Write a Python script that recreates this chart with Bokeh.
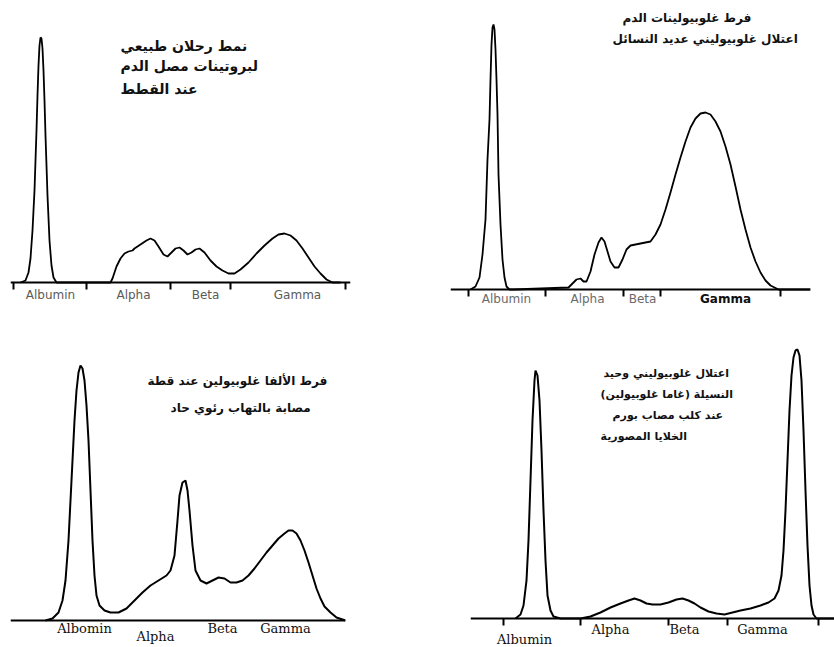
from bokeh.plotting import figure
from bokeh.models import Range1d, FixedTicker, Label, LinearAxis
from bokeh.layouts import column, row
from bokeh.embed import file_html
from bokeh.resources import INLINE

# ---------------- data (mobility, relative density) ----------------
# Panel 1: normal cat serum protein pattern
p1_mob = [10, 15, 18, 20, 22, 24, 26, 27, 28, 29, 30, 31, 32, 33, 34, 35, 37, 39, 41, 43, 46, 50,
          100, 102, 106, 110, 114, 118, 122, 124, 130, 136, 140, 144, 148, 153, 157, 161, 165, 169,
          173, 177, 181, 185, 189, 194, 200, 206, 212, 218, 224, 230, 238, 246, 254, 262, 268, 274,
          280, 286, 292, 298, 304, 310, 316, 322, 330]
p1_den = [0, 2, 10, 24, 52, 92, 152, 187, 217, 237, 245, 244, 234, 212, 182, 147, 87, 42, 17, 5, 0, 0,
          0, 4, 16, 24, 29, 31, 32, 34, 38, 42, 44, 42, 36, 28, 26, 30, 34, 35,
          32, 28, 30, 33, 34, 30, 22, 16, 12, 9, 9, 13, 20, 29, 37, 44, 48, 49,
          47, 42, 34, 25, 16, 9, 3, 0, 0]

# Panel 2: polyclonal hypergammaglobulinaemia
p2_mob = [20, 25, 29, 32, 35, 37, 39, 40, 41, 42, 43, 44, 45, 46, 47, 48, 50, 52, 54, 56, 59, 63,
          118, 122, 126, 130, 133, 136, 140, 144, 148, 151, 154, 157, 160, 164, 168, 172, 176, 180,
          185, 190, 195, 200, 205, 210, 215, 220, 225, 230, 235, 240, 245, 250, 255, 260, 265, 270,
          275, 280, 285, 290, 295, 300, 305, 310, 315, 320, 328, 360]
p2_den = [0, 3, 12, 35, 70, 130, 170, 210, 245, 262, 265, 260, 240, 210, 175, 115, 65, 30, 12, 3, 0, 0,
          2, 6, 10, 11, 8, 8, 18, 35, 47, 52, 48, 38, 28, 22, 22, 30, 40, 44,
          45, 46, 47, 48, 55, 65, 80, 97, 115, 132, 148, 162, 171, 176, 177, 175, 168, 158,
          143, 125, 103, 80, 60, 42, 28, 17, 9, 4, 0, 0]

# Panel 3: alpha hyperglobulinaemia (cat with acute pneumonia)
p3_mob = [35, 42, 48, 52, 55, 58, 60, 62, 64, 66, 68, 70, 72, 74, 76, 78, 80, 82, 84, 86, 89, 94,
          100, 108, 116, 124, 132, 140, 148, 156, 160, 164, 167, 169, 172, 175, 177, 179, 182, 185,
          190, 196, 202, 208, 214, 220, 226, 232, 238, 244, 250, 256, 262, 268, 274, 278, 282, 286,
          290, 294, 298, 302, 306, 310, 314, 320, 326, 335]
p3_den = [0, 2, 8, 20, 40, 80, 120, 160, 200, 230, 248, 255, 252, 240, 215, 180, 130, 80, 45, 25, 15, 10,
          8, 8, 12, 20, 28, 35, 40, 45, 50, 65, 100, 125, 138, 140, 130, 110, 75, 50,
          40, 37, 40, 43, 42, 38, 38, 40, 45, 52, 60, 68, 75, 82, 87, 90, 90, 87,
          80, 70, 58, 45, 32, 22, 14, 8, 3, 0]

# Panel 4: monoclonal gammopathy (dog with plasma cell tumour)
p4_mob = [45, 50, 53, 56, 58, 60, 62, 64, 65, 67, 69, 71, 73, 75, 77, 80, 83, 90, 110, 120, 130, 140,
          150, 158, 164, 170, 176, 182, 190, 198, 206, 212, 218, 224, 230, 238, 246, 254, 262, 270,
          280, 290, 298, 304, 308, 311, 313, 315, 317, 319, 321, 323, 325, 327, 329, 331, 333, 335,
          337, 339, 341, 343, 346, 364]
p4_den = [0, 4, 13, 38, 78, 138, 198, 238, 248, 243, 218, 168, 108, 58, 23, 8, 2, 0, 0, 2, 6, 11,
          15, 18, 20, 18, 15, 14, 14, 16, 19, 20, 18, 15, 11, 7, 5, 4, 6, 8,
          10, 13, 16, 20, 28, 43, 68, 108, 158, 208, 243, 261, 268, 269, 263, 238, 188, 128,
          73, 33, 13, 4, 0, 0]

# fraction boundaries (tick marks) and fraction labels
p1_bounds = [3, 76, 160, 220, 335]
p2_bounds = [18, 95, 173, 210, 330]
p3_bounds = []
p4_bounds = [33, 110, 198, 257, 348]

p1_labels = ["Albumin", "Alpha", "Beta", "Gamma"]
p2_labels = ["Albumin", "Alpha", "Beta", "Gamma"]
p3_labels = ["Albomin", "Alpha", "Beta", "Gamma"]
p4_labels = ["Albumin", "Alpha", "Beta", "Gamma"]

p1_centers = [40, 123, 195, 287]
p2_centers = [56, 137, 192, 275]
p3_centers = [74, 145, 212, 275]
p4_centers = [54, 140, 214, 292]

p1_notes = ["نمط رحلان طبيعي", "لبروتينات مصل الدم", "عند القطط"]
p2_notes = ["فرط غلوبيولينات الدم", "اعتلال غلوبيوليني عديد النسائل"]
p3_notes = ["فرط الألفا غلوبيولين عند قطة", "مصابة بالتهاب رئوي حاد"]
p4_notes = ["اعتلال غلوبيوليني وحيد", "النسيلة (غاما غلوبيولين)", "عند كلب مصاب بورم", "الخلايا المصورية"]

# ---------------- styling / layout ----------------
SANS = "DejaVu Sans"
SERIF = "DejaVu Serif"
panels = [
    dict(mob=p1_mob, den=p1_den, bounds=p1_bounds, labels=p1_labels, centers=p1_centers, notes=p1_notes,
         width=423, height=328, left=10, right=73, yr=(-46, 282),
         groups=[([0, 1, 2, 3], 5, SANS, "12px", "#5a5a5a", "normal")],
         note_x=[110, 110, 110], note_y=[237, 217, 194], note_size="14px", lw=1.8),
    dict(mob=p2_mob, den=p2_den, bounds=p2_bounds, labels=p2_labels, centers=p2_centers, notes=p2_notes,
         width=411, height=328, left=27, right=24, yr=(-39, 289),
         groups=[([0, 1, 2], 2, SANS, "12px", "#6a6a6a", "normal"),
                 ([3], 2, SANS, "12px", "#111111", "bold")],
         note_x=[172, 162], note_y=[272, 251], note_size="12px", lw=1.8),
    dict(mob=p3_mob, den=p3_den, bounds=p3_bounds, labels=p3_labels, centers=p3_centers, notes=p3_notes,
         width=423, height=319, left=10, right=78, yr=(-27, 292),
         groups=[([0, 2, 3], 0, SERIF, "13px", "#111111", "normal"),
                 ([1], 8, SERIF, "13px", "#111111", "normal")],
         note_x=[137, 160], note_y=[240, 213], note_size="12px", lw=2.0),
    dict(mob=p4_mob, den=p4_den, bounds=p4_bounds, labels=p4_labels, centers=p4_centers, notes=p4_notes,
         width=411, height=319, left=47, right=0, yr=(-29, 290),
         groups=[([1, 2, 3], 3, SERIF, "13px", "#111111", "normal"),
                 ([0], 13, SERIF, "13px", "#111111", "normal")],
         note_x=[133, 130, 142, 130], note_y=[245, 224, 203, 182], note_size="11px", lw=2.0),
]

figs = []
for cfg in panels:
    fw = cfg["width"] - cfg["left"] - cfg["right"]
    p = figure(width=cfg["width"], height=cfg["height"], output_backend="svg", toolbar_location=None,
               x_range=Range1d(0, fw), y_range=Range1d(*cfg["yr"]),
               x_axis_location=None, y_axis_location=None,
               min_border_left=cfg["left"], min_border_right=cfg["right"],
               min_border_top=0, min_border_bottom=0)
    p.outline_line_color = None
    p.grid.visible = False
    p.background_fill_color = "white"
    p.border_fill_color = "white"

    # baseline with fraction boundary ticks
    base = LinearAxis(fixed_location=0, ticker=FixedTicker(ticks=[], minor_ticks=cfg["bounds"]))
    base.axis_line_color = "black"
    base.axis_line_width = 2
    base.major_tick_line_color = None
    base.major_tick_out = 0
    base.major_tick_in = 0
    base.minor_tick_line_color = "black"
    base.minor_tick_line_width = 2
    base.minor_tick_out = 7
    base.minor_tick_in = 0
    p.add_layout(base, "below")

    # fraction names
    for idx, standoff, font, size, color, style in cfg["groups"]:
        ticks = [cfg["centers"][i] for i in idx]
        ax = LinearAxis(fixed_location=0, ticker=FixedTicker(ticks=ticks, minor_ticks=[]))
        ax.major_label_overrides = {cfg["centers"][i]: cfg["labels"][i] for i in idx}
        ax.axis_line_color = None
        ax.major_tick_line_color = None
        ax.minor_tick_line_color = None
        ax.major_tick_out = 0
        ax.major_tick_in = 0
        ax.minor_tick_out = 0
        ax.minor_tick_in = 0
        ax.major_label_standoff = standoff
        ax.major_label_text_font = font
        ax.major_label_text_font_size = size
        ax.major_label_text_color = color
        ax.major_label_text_font_style = style
        p.add_layout(ax, "below")

    p.line(cfg["mob"], cfg["den"], line_color="black", line_width=cfg["lw"])

    for t, nx, ny in zip(cfg["notes"], cfg["note_x"], cfg["note_y"]):
        p.add_layout(Label(x=nx, y=ny, text=t, text_font=SANS, text_font_style="bold",
                           text_font_size=cfg["note_size"], text_align="left", text_baseline="middle",
                           text_color="#111111"))
    figs.append(p)

layout = column(row(figs[0], figs[1]), row(figs[2], figs[3]))
open("out.html", "w").write(file_html(layout, INLINE))
